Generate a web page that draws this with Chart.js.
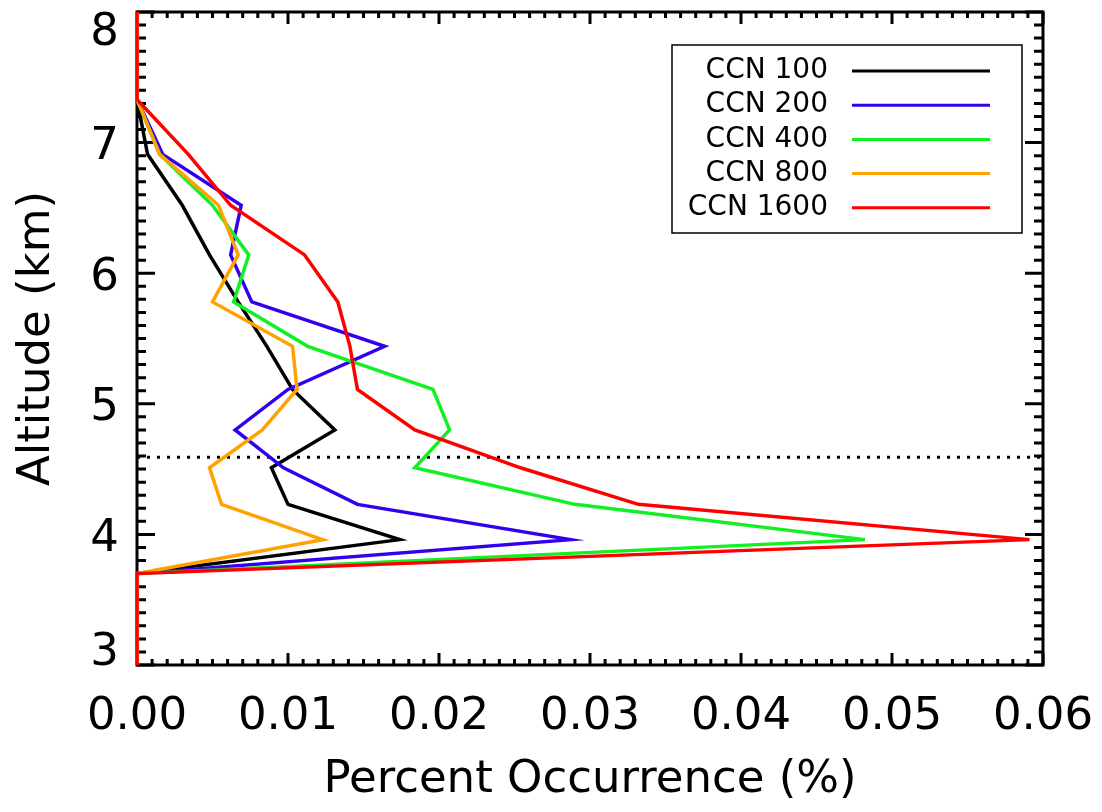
<!DOCTYPE html>
<html>
<head>
<meta charset="utf-8">
<script src="https://cdn.jsdelivr.net/npm/chart.js@4.4.0/dist/chart.umd.min.js"></script>
<style>
html, body { margin: 0; padding: 0; background: #fff; }
canvas { display: block; }
</style>
</head>
<body>
<canvas id="grafico" width="1102" height="812"></canvas>
<script>
// niveles de altitud (km) y porcentaje de ocurrencia por cada CCN
const altitudes = [3.0, 3.70, 3.96, 4.23, 4.51, 4.80, 5.11, 5.44, 5.78, 6.14, 6.52, 6.91, 7.33, 8.0]
const ccn100  = [0, 0, 0.0174, 0.0100, 0.0089, 0.0131, 0.0103, 0.0086, 0.0067, 0.0048, 0.0030, 0.0007, 0, 0]
const ccn200  = [0, 0, 0.0287, 0.0146, 0.0097, 0.0065, 0.0100, 0.0164, 0.0076, 0.0062, 0.0069, 0.0017, 0, 0]
const ccn400  = [0, 0, 0.0482, 0.0290, 0.0184, 0.0207, 0.0196, 0.0113, 0.0064, 0.0074, 0.0050, 0.0015, 0, 0]
const ccn800  = [0, 0, 0.0123, 0.0056, 0.0048, 0.0083, 0.0106, 0.0103, 0.0050, 0.0067, 0.0054, 0.0015, 0, 0]
const ccn1600 = [0, 0, 0.0591, 0.0332, 0.0254, 0.0184, 0.0146, 0.0141, 0.0133, 0.0111, 0.0062, 0.0034, 0, 0]
const series = [ccn100, ccn200, ccn400, ccn800, ccn1600]
const etiquetas = ['CCN 100', 'CCN 200', 'CCN 400', 'CCN 800', 'CCN 1600']
const colores = ['#000000', '#3300ee', '#11f022', '#ffa200', '#ff0000']
const nivelPunteado = 4.59
const ticksX = ['0.00', '0.01', '0.02', '0.03', '0.04', '0.05', '0.06']
const ticksY = ['3', '4', '5', '6', '7', '8']

const fuente = 'DejaVu Sans'
Chart.defaults.color = '#000'
Chart.defaults.font.family = fuente

let datasets = series.map((s, i) => ({
    label: etiquetas[i],
    data: altitudes.map((a, j) => ({x: s[j], y: a})),
    showLine: true,
    borderColor: colores[i],
    backgroundColor: colores[i],
    borderWidth: 3.5,
    pointRadius: 0,
    tension: 0,
    clip: false,
    order: series.length - i
}))
datasets.push({
    label: 'nivel',
    data: [{x: 0, y: nivelPunteado}, {x: 0.06, y: nivelPunteado}],
    showLine: true,
    borderColor: '#000',
    borderWidth: 3,
    borderDash: [3, 7],
    borderCapStyle: 'butt',
    pointRadius: 0,
    order: 10
})

// marco, marcas de ejes y etiquetas del eje Y
const marco = {
    id: 'marco',
    beforeDatasetsDraw(chart) {
        const {ctx, chartArea: a, scales: {x, y}} = chart
        ctx.save()
        ctx.strokeStyle = '#000'
        ctx.lineWidth = 3
        ctx.strokeRect(a.left, a.top, a.right - a.left, a.bottom - a.top)
        ctx.beginPath()
        for (let k = 0; k <= 60; k++) {
            const px = x.getPixelForValue(k * 0.001)
            const largo = k % 10 == 0 ? 12 : 6
            ctx.moveTo(px, a.bottom); ctx.lineTo(px, a.bottom - largo)
            ctx.moveTo(px, a.top); ctx.lineTo(px, a.top + largo)
        }
        for (let k = 30; k <= 80; k++) {
            const py = y.getPixelForValue(k / 10)
            const largo = k % 10 == 0 ? 18 : 9
            ctx.moveTo(a.left, py); ctx.lineTo(a.left + largo, py)
            ctx.moveTo(a.right, py); ctx.lineTo(a.right - largo, py)
        }
        ctx.stroke()
        ctx.fillStyle = '#000'
        ctx.font = '45px "' + fuente + '"'
        ctx.textAlign = 'right'
        ctx.textBaseline = 'alphabetic'
        const alto = 45 * 0.729
        ticksY.forEach(t => {
            let c = y.getPixelForValue(Number(t))
            if (c - alto / 2 < a.top) c = a.top + alto / 2
            if (c + alto / 2 > a.bottom) c = a.bottom - alto / 2
            ctx.fillText(t, 119, c + alto / 2)
        })
        ctx.restore()
    },
    afterDatasetsDraw(chart) {
        const {ctx} = chart
        ctx.save()
        ctx.fillStyle = '#fff'
        ctx.fillRect(672, 45, 350, 188)
        ctx.strokeStyle = '#000'
        ctx.lineWidth = 1.5
        ctx.strokeRect(672, 45, 350, 188)
        ctx.font = '28px "' + fuente + '"'
        ctx.textAlign = 'right'
        ctx.textBaseline = 'middle'
        ctx.lineWidth = 3
        etiquetas.forEach((e, i) => {
            const fy = 71 + i * 34.2
            ctx.fillStyle = '#000'
            ctx.fillText(e, 828, fy)
            ctx.strokeStyle = colores[i]
            ctx.beginPath()
            ctx.moveTo(852, fy)
            ctx.lineTo(990, fy)
            ctx.stroke()
        })
        ctx.restore()
    }
}

const contexto = document.getElementById('grafico').getContext('2d')
const grafico = new Chart(contexto, {
    type: 'scatter',
    data: {datasets: datasets},
    plugins: [marco],
    options: {
        responsive: false,
        animation: false,
        devicePixelRatio: 1,
        layout: {padding: {top: 12, right: 59, bottom: 0, left: 0}},
        plugins: {
            legend: {display: false},
            tooltip: {enabled: false}
        },
        scales: {
            x: {
                type: 'linear',
                min: 0,
                max: 0.06,
                afterFit: s => { s.height = 147; s.paddingLeft = 0; s.paddingRight = 0 },
                grid: {display: false, drawTicks: false},
                border: {display: false},
                ticks: {
                    stepSize: 0.01,
                    autoSkip: false,
                    maxRotation: 0,
                    padding: 25,
                    font: {size: 45},
                    callback: (v, i) => ticksX[i]
                },
                title: {
                    display: true,
                    text: 'Percent Occurrence (%)',
                    font: {size: 45},
                    padding: {top: 0, bottom: 5}
                }
            },
            y: {
                type: 'linear',
                min: 3,
                max: 8,
                afterFit: s => { s.width = 137; s.paddingTop = 0; s.paddingBottom = 0 },
                grid: {display: false, drawTicks: false},
                border: {display: false},
                ticks: {display: false},
                title: {
                    display: true,
                    text: 'Altitude (km)',
                    font: {size: 45},
                    padding: {top: 10, bottom: 0}
                }
            }
        }
    }
})
</script>
</body>
</html>
